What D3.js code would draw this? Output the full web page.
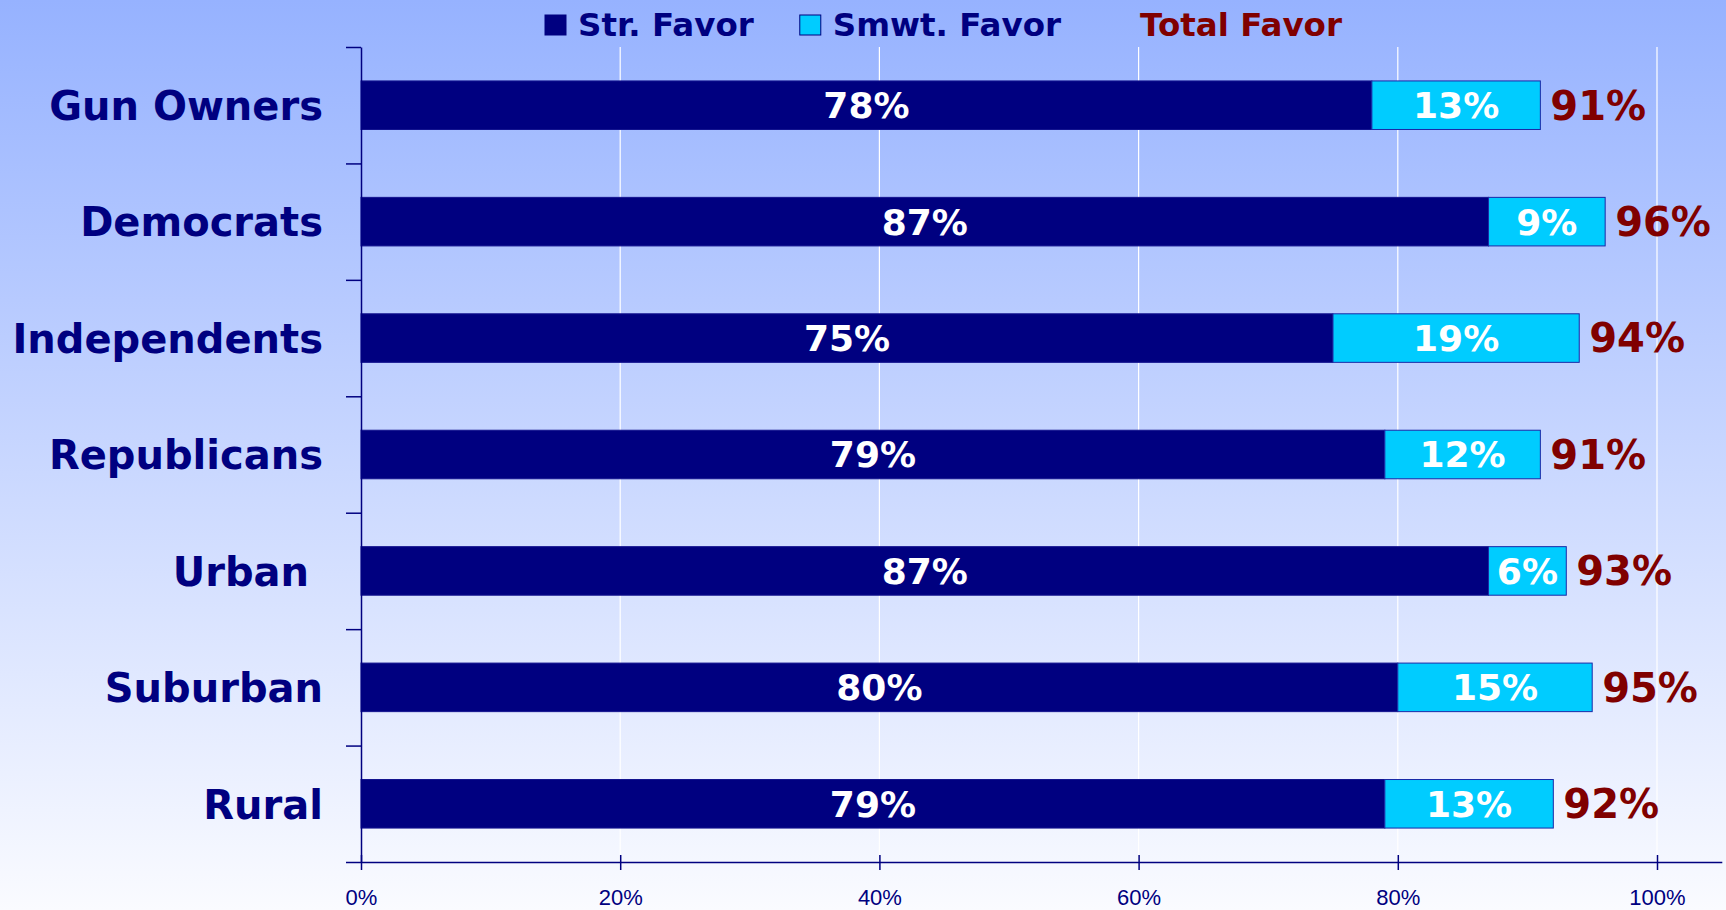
<!DOCTYPE html>
<html>
<head>
<meta charset="utf-8">
<script src="https://cdn.jsdelivr.net/npm/d3@7"></script>
<style>
  html, body { margin: 0; padding: 0; background: #fff; }
  svg { display: block; }
  text { white-space: pre; }
</style>
</head>
<body>
<svg id="chart" width="1726" height="910"></svg>
<script>
// ---- data ----
const categories = ["Gun Owners", "Democrats", "Independents", "Republicans", "Urban ", "Suburban", "Rural"];
const strFavor   = [78, 87, 75, 79, 87, 80, 79];
const smwtFavor  = [13, 9, 19, 12, 6, 15, 13];
const totalFavor = [91, 96, 94, 91, 93, 95, 92];
const xTickValues = [0, 20, 40, 60, 80, 100];
const legendLabels = ["Str. Favor", "Smwt. Favor", "Total Favor"];

// ---- styles ----
const NAVY = "#000080", CYAN = "#00CCFF", MAROON = "#800000";
const FONT = "'DejaVu Sans', Verdana, sans-serif";

const W = 1726, H = 910;
const svg = d3.select("#chart");

// background gradient
const defs = svg.append("defs");
const grad = defs.append("linearGradient").attr("id", "bg").attr("x1", 0).attr("y1", 0).attr("x2", 0).attr("y2", 1);
grad.append("stop").attr("offset", "0%").attr("stop-color", "rgb(150,178,255)");
grad.append("stop").attr("offset", "100%").attr("stop-color", "rgb(250,251,255)");
svg.append("rect").attr("width", W).attr("height", H).attr("fill", "url(#bg)");

// scales
const plotLeft = 361, plotTop = 47, plotBottom = 862, unit = 1296;
const x = d3.scaleLinear().domain([0, 105]).range([plotLeft, plotLeft + unit * 1.05]);
const y = d3.scaleBand().domain(categories).range([plotTop, plotBottom]).paddingInner(0.583).paddingOuter(0.2915);
const yBound = d3.scaleLinear().domain([0, categories.length]).range([plotTop, plotBottom]);

// grid lines
svg.append("g").selectAll("line").data(xTickValues.filter(d => d > 0)).join("line")
  .attr("x1", d => x(d)).attr("x2", d => x(d))
  .attr("y1", plotTop).attr("y2", plotBottom)
  .attr("stroke", "#ffffff").attr("stroke-width", 1.2);

// rows
const rows = categories.map((c, i) => ({ c, s: strFavor[i], m: smwtFavor[i], t: totalFavor[i] }));

// bars
const g = svg.append("g");
g.selectAll("rect.str").data(rows).join("rect").attr("class", "str")
  .attr("x", x(0)).attr("y", d => y(d.c))
  .attr("width", d => x(d.s) - x(0)).attr("height", y.bandwidth())
  .attr("fill", NAVY).attr("stroke", "#14148f").attr("stroke-width", 1);
g.selectAll("rect.smwt").data(rows).join("rect").attr("class", "smwt")
  .attr("x", d => x(d.s)).attr("y", d => y(d.c))
  .attr("width", d => x(d.s + d.m) - x(d.s)).attr("height", y.bandwidth())
  .attr("fill", CYAN).attr("stroke", "#1a2aa8").attr("stroke-width", 1);

// value labels
g.selectAll("text.sv").data(rows).join("text").attr("class", "sv")
  .attr("x", d => (x(0) + x(d.s)) / 2).attr("y", d => y(d.c) + y.bandwidth() / 2)
  .attr("dy", "0.36em").attr("text-anchor", "middle")
  .attr("font-family", FONT).attr("font-weight", "bold").attr("font-size", 36)
  .attr("fill", "#ffffff").text(d => d.s + "%");
g.selectAll("text.mv").data(rows).join("text").attr("class", "mv")
  .attr("x", d => (x(d.s) + x(d.s + d.m)) / 2).attr("y", d => y(d.c) + y.bandwidth() / 2)
  .attr("dy", "0.36em").attr("text-anchor", "middle")
  .attr("font-family", FONT).attr("font-weight", "bold").attr("font-size", 36)
  .attr("fill", "#ffffff").text(d => d.m + "%");
g.selectAll("text.tv").data(rows).join("text").attr("class", "tv")
  .attr("x", d => x(d.t) + 10).attr("y", d => y(d.c) + y.bandwidth() / 2)
  .attr("dy", "0.36em").attr("text-anchor", "start")
  .attr("font-family", FONT).attr("font-weight", "bold").attr("font-size", 40)
  .attr("fill", MAROON).text(d => d.t + "%");

// category labels
svg.append("g").selectAll("text").data(categories).join("text")
  .attr("x", plotLeft - 38).attr("y", d => y(d) + y.bandwidth() / 2)
  .attr("dy", "0.37em").attr("text-anchor", "end")
  .attr("font-family", FONT).attr("font-weight", "bold").attr("font-size", 40)
  .attr("fill", NAVY).text(d => d);

// y axis (ticks at band boundaries)
const yAxis = svg.append("g").attr("transform", `translate(${plotLeft},0)`)
  .call(d3.axisLeft(yBound).tickValues(d3.range(categories.length + 1)).tickSize(15).tickSizeOuter(0).tickFormat(""));
yAxis.select(".domain").attr("stroke", NAVY).attr("stroke-width", 1.5);
yAxis.selectAll(".tick line").attr("stroke", NAVY).attr("stroke-width", 1.5);

// x axis
const xAxis = svg.append("g").attr("transform", `translate(0,${plotBottom})`)
  .call(d3.axisBottom(x).tickValues(xTickValues).tickSizeOuter(0).tickFormat(d => d + "%"));
xAxis.select(".domain").attr("stroke", NAVY).attr("stroke-width", 1.5);
xAxis.selectAll(".tick line").attr("stroke", NAVY).attr("stroke-width", 1.5).attr("y1", -7).attr("y2", 8);
xAxis.selectAll(".tick text").attr("fill", NAVY).attr("font-family", "'Liberation Sans', Arial, sans-serif")
  .attr("font-size", 22).attr("y", 27).attr("dy", "0.71em");

// legend
const legendColors = [NAVY, CYAN, null];
const legendTextColors = [NAVY, NAVY, MAROON];
const leg = svg.append("g");
let lx = 545;
legendLabels.forEach((lab, i) => {
  if (legendColors[i]) {
    leg.append("rect").attr("x", lx).attr("y", 15).attr("width", 21).attr("height", 20)
      .attr("fill", legendColors[i]).attr("stroke", NAVY).attr("stroke-width", 1);
  }
  const t = leg.append("text").attr("x", lx + 33).attr("y", 36)
    .attr("font-family", FONT).attr("font-weight", "bold").attr("font-size", 32.5)
    .attr("fill", legendTextColors[i]).text(lab);
  lx = lx + 33 + t.node().getComputedTextLength() + 46;
});
</script>
</body>
</html>
